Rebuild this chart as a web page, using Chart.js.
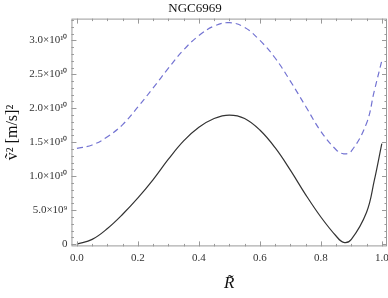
<!DOCTYPE html>
<html lang="en">
<head>
    <meta charset="UTF-8">
    <script src="https://cdn.jsdelivr.net/npm/chart.js"></script>
    <title>NGC6969</title>
    <style>
        html, body { margin: 0; padding: 0; background: #fff; }
        #wrap { width: 388px; height: 298px; }
    </style>
</head>
<body>
<div id="wrap"><canvas id="myChart"></canvas></div>
<script>
    // values (v^2 in units of 1e9 (m/s)^2)
    const rValues = [0, 0.05, 0.1, 0.15, 0.2, 0.25, 0.3, 0.35, 0.4, 0.45, 0.5, 0.55, 0.6, 0.65, 0.7, 0.75, 0.8, 0.85, 0.875, 0.9, 0.95, 0.975, 1.0];
    const solidV2 = [0, 0.7, 2.3, 4.4, 6.8, 9.5, 12.5, 15.2, 17.2, 18.5, 19.0, 18.5, 16.8, 14.2, 10.9, 7.3, 4.0, 1.2, 0.25, 0.7, 4.7, 9.3, 14.8];
    const dashedV2 = [14.1, 14.6, 15.8, 17.6, 20.2, 23.0, 25.9, 28.6, 30.7, 32.1, 32.6, 31.9, 30.0, 27.4, 24.0, 20.3, 16.6, 13.9, 13.3, 13.7, 17.8, 22.5, 27.0];
    const xTicks = [0, 0.2, 0.4, 0.6, 0.8, 1.0];
    const yTicks = [0, 5e9, 1e10, 1.5e10, 2e10, 2.5e10, 3e10];
    const yTickLabels = ['0', '5.0\u00d710\u2079', '1.0\u00d710\u00b9\u2070', '1.5\u00d710\u00b9\u2070', '2.0\u00d710\u00b9\u2070', '2.5\u00d710\u00b9\u2070', '3.0\u00d710\u00b9\u2070'];

    const FRAME = '#999';
    const SERIF = "'Liberation Serif', 'Times New Roman', serif";

    function toPoints(ys) {
        return rValues.map((r, i) => ({ x: r, y: ys[i] * 1e9 }));
    }

    // draws the frame and its inward ticks on all four sides
    const frameTicks = {
        id: 'frameTicks',
        afterDraw(chart) {
            const { ctx, chartArea: a, scales } = chart;
            const xs = scales.x, ys = scales.y;
            ctx.save();
            ctx.strokeStyle = FRAME;
            ctx.lineWidth = 1;
            ctx.strokeRect(a.left + 0.5, a.top + 0.5, a.right - a.left - 1, a.bottom - a.top - 1);
            ctx.beginPath();
            for (let i = 0; i <= 20; i++) {
                const v = i * 0.05;
                const len = i % 4 === 0 ? 5 : 2.5;
                const px = Math.round(xs.getPixelForValue(v)) + 0.5;
                ctx.moveTo(px, a.bottom); ctx.lineTo(px, a.bottom - len);
                ctx.moveTo(px, a.top); ctx.lineTo(px, a.top + len);
            }
            for (let i = 0; i <= 33; i++) {
                const v = i * 1e9;
                const len = i % 5 === 0 ? 5 : 2.5;
                const py = Math.round(ys.getPixelForValue(v)) + 0.5;
                ctx.moveTo(a.left, py); ctx.lineTo(a.left + len, py);
                ctx.moveTo(a.right, py); ctx.lineTo(a.right - len, py);
            }
            ctx.stroke();
            ctx.restore();
        }
    };

    const ctx = document.getElementById('myChart').getContext('2d');
    new Chart(ctx, {
        type: 'line',
        data: {
            datasets: [{
                label: 'dashed',
                data: toPoints(dashedV2),
                borderColor: 'rgba(100, 100, 205, 0.9)',
                borderWidth: 1.2,
                borderDash: [6, 4],
                pointRadius: 0,
                tension: 0.4,
                fill: false
            }, {
                label: 'solid',
                data: toPoints(solidV2),
                borderColor: '#333',
                borderWidth: 1.2,
                pointRadius: 0,
                tension: 0.4,
                fill: false
            }]
        },
        options: {
            responsive: true,
            maintainAspectRatio: false,
            animation: false,
            layout: { padding: { left: 3, right: 1, top: 0, bottom: 4 } },
            plugins: {
                legend: { display: false },
                tooltip: { enabled: false },
                title: {
                    display: true,
                    text: 'NGC6969',
                    color: '#111',
                    font: { family: SERIF, size: 13, weight: 'normal' },
                    padding: { top: 1, bottom: 2 }
                }
            },
            scales: {
                x: {
                    type: 'linear',
                    min: -0.018,
                    max: 1.017,
                    afterBuildTicks: s => { s.ticks = xTicks.map(v => ({ value: v })); },
                    afterFit: s => { s.paddingRight = 0; s.paddingLeft = 0; },
                    grid: { display: false, drawTicks: false },
                    border: { display: false },
                    ticks: {
                        color: '#333',
                        padding: 5,
                        font: { family: SERIF, size: 11 },
                        callback: v => v.toFixed(1)
                    },
                    title: {
                        display: true,
                        text: 'R\u0303',
                        color: '#111',
                        padding: { top: 4, bottom: 0 },
                        font: { family: SERIF, size: 17, style: 'italic' }
                    }
                },
                y: {
                    type: 'linear',
                    min: -3.3e8,
                    max: 3.32e10,
                    afterBuildTicks: s => { s.ticks = yTicks.map(v => ({ value: v })); },
                    afterFit: s => { s.width += 2; },
                    grid: { display: false, drawTicks: false },
                    border: { display: false },
                    ticks: {
                        color: '#333',
                        padding: 4,
                        font: { family: SERIF, size: 11 },
                        callback: (v, i) => yTickLabels[i]
                    },
                    title: {
                        display: true,
                        text: 'v\u0303\u00b2 [m/s]\u00b2',
                        color: '#111',
                        padding: { top: 0, bottom: 1 },
                        font: { family: SERIF, size: 16 }
                    }
                }
            }
        },
        plugins: [frameTicks]
    });
</script>
</body>
</html>
